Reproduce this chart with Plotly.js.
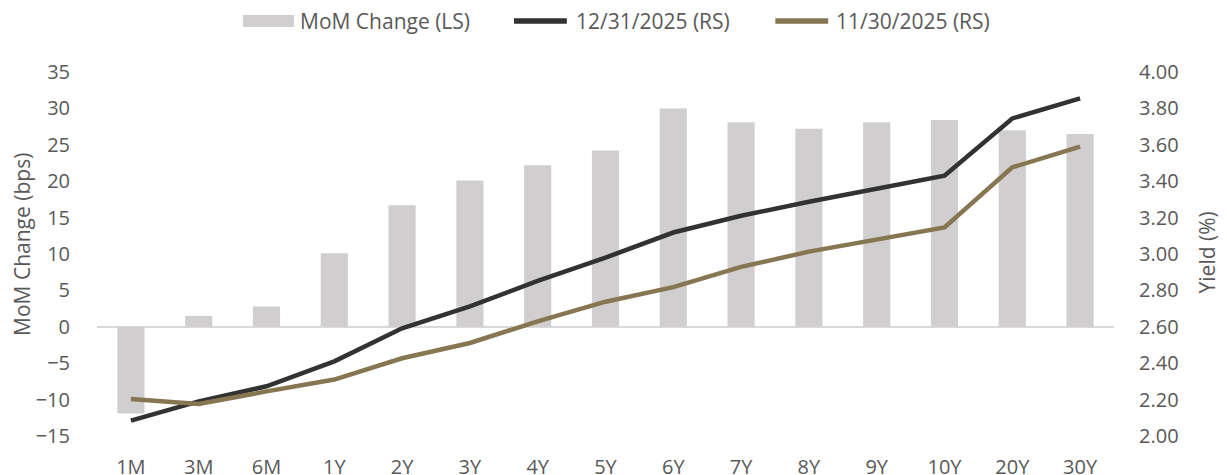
<!DOCTYPE html>
<html>
<head>
<meta charset="utf-8">
<script src="https://cdn.plot.ly/plotly-3.0.1.min.js"></script>
<style>html,body{margin:0;padding:0;background:#fff;}#chart{width:1227px;height:475px;}</style>
</head>
<body>
<div id="chart"></div>
<script>
var tenors = ['1M','3M','6M','1Y','2Y','3Y','4Y','5Y','6Y','7Y','8Y','9Y','10Y','20Y','30Y'];
var momChange = [-11.9, 1.5, 2.8, 10.1, 16.7, 20.1, 22.2, 24.2, 30.0, 28.1, 27.2, 28.1, 28.4, 27.0, 26.5];
var yieldDec = [2.084, 2.19, 2.273, 2.41, 2.592, 2.712, 2.852, 2.98, 3.118, 3.21, 3.287, 3.36, 3.43, 3.745, 3.855];
var yieldNov = [2.203, 2.176, 2.245, 2.31, 2.427, 2.511, 2.63, 2.738, 2.818, 2.929, 3.013, 3.077, 3.146, 3.476, 3.59];
var seriesNames = ['MoM Change (LS)', '12/31/2025 (RS)', '11/30/2025 (RS)'];
var leftTitle = 'MoM Change (bps)';
var rightTitle = 'Yield (%)';

var FONT = "'Open Sans', 'Noto Sans', sans-serif";
var TXT = '#595959';
var C_BAR = '#d0cece', C_DEC = '#323331', C_NOV = '#867651';

var traces = [
  {type:'bar', x:tenors, y:momChange, name:seriesNames[0], marker:{color:C_BAR}, yaxis:'y', showlegend:false},
  {type:'scatter', mode:'lines', x:tenors, y:yieldDec, name:seriesNames[1], line:{color:C_DEC, width:4.5}, yaxis:'y2', showlegend:false},
  {type:'scatter', mode:'lines', x:tenors, y:yieldNov, name:seriesNames[2], line:{color:C_NOV, width:4.5}, yaxis:'y2', showlegend:false}
];

// custom legend (layout styling only), placed above the plot area in paper coordinates
var legY = 1.14;
var shapes = [
  {type:'rect', xref:'paper', yref:'paper', x0:0.1436, x1:0.1937, y0:1.1236, y1:1.1566, fillcolor:C_BAR, line:{width:0}},
  {type:'line', xref:'paper', yref:'paper', x0:0.410, x1:0.462, y0:legY, y1:legY, line:{color:C_DEC, width:5.5}},
  {type:'line', xref:'paper', yref:'paper', x0:0.667, x1:0.719, y0:legY, y1:legY, line:{color:C_NOV, width:5.5}}
];
var legX = [0.1976, 0.4690, 0.7247];

var annotations = [
  {text:leftTitle, textangle:-90, xref:'paper', yref:'paper', x:-0.074, y:0.527, xanchor:'center', yanchor:'middle',
   showarrow:false, font:{size:21, color:TXT}},
  {text:rightTitle, textangle:-90, xref:'paper', yref:'paper', x:1.091, y:0.503, xanchor:'center', yanchor:'middle',
   showarrow:false, font:{size:21, color:TXT}}
];
for (var i = 0; i < seriesNames.length; i++) {
  annotations.push({text:seriesNames[i], xref:'paper', yref:'paper', x:legX[i], y:legY, xanchor:'left', yanchor:'middle',
    showarrow:false, font:{size:21, color:TXT}});
}

var layout = {
  width:1227, height:475,
  margin:{l:97, r:113, t:72, b:39},
  paper_bgcolor:'#fff', plot_bgcolor:'#fff',
  font:{family:FONT, color:TXT, size:20},
  bargap:0.6,
  showlegend:false,
  xaxis:{type:'category', showgrid:false, showline:false, zeroline:false,
         ticks:'outside', ticklen:13, tickcolor:'rgba(0,0,0,0)', tickfont:{size:20, color:TXT}},
  yaxis:{range:[-15,35], dtick:5, tick0:0, showgrid:false, showline:false,
         zeroline:true, zerolinecolor:'#d9d9d9', zerolinewidth:1.5,
         ticks:'outside', ticklen:22, tickcolor:'rgba(0,0,0,0)', tickfont:{size:20, color:TXT}},
  yaxis2:{range:[2,4], dtick:0.2, tick0:2, tickformat:'.2f', overlaying:'y', side:'right',
          showgrid:false, showline:false, zeroline:false,
          ticks:'outside', ticklen:20, tickcolor:'rgba(0,0,0,0)', tickfont:{size:20, color:TXT}},
  shapes:shapes,
  annotations:annotations
};

Plotly.newPlot('chart', traces, layout, {displayModeBar:false, staticPlot:true});
</script>
</body>
</html>
